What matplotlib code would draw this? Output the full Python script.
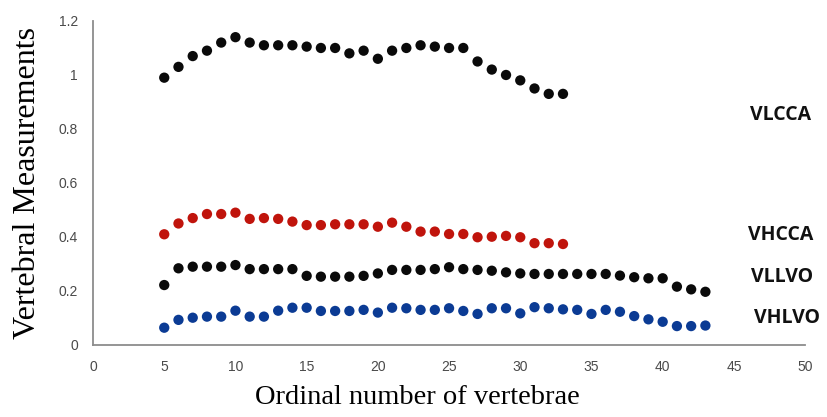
import matplotlib
matplotlib.use("Agg")
import matplotlib.pyplot as plt

# ordinal numbers of the vertebrae for each series
x_cca = list(range(5, 34))
x_lvo = list(range(5, 44))

vlcca = [0.99, 1.03, 1.07, 1.09, 1.12, 1.14, 1.12, 1.11, 1.11, 1.11,
         1.105, 1.10, 1.10, 1.08, 1.09, 1.06, 1.09, 1.10, 1.11, 1.105,
         1.10, 1.10, 1.05, 1.02, 1.00, 0.98, 0.95, 0.93, 0.93]
vhcca = [0.41, 0.45, 0.47, 0.485, 0.485, 0.49, 0.467, 0.47, 0.467, 0.457,
         0.444, 0.444, 0.447, 0.447, 0.447, 0.438, 0.453, 0.438, 0.42, 0.42,
         0.411, 0.411, 0.399, 0.401, 0.404, 0.399, 0.377, 0.377, 0.374]
vllvo = [0.222, 0.284, 0.29, 0.29, 0.29, 0.296, 0.281, 0.281, 0.281, 0.281,
         0.256, 0.253, 0.253, 0.253, 0.256, 0.265, 0.278, 0.278, 0.278, 0.281,
         0.288, 0.281, 0.278, 0.275, 0.269, 0.265, 0.263, 0.263, 0.263, 0.263,
         0.263, 0.263, 0.257, 0.251, 0.247, 0.247, 0.216, 0.206, 0.197]
vhlvo = [0.064, 0.093, 0.101, 0.105, 0.105, 0.127, 0.105, 0.105, 0.127, 0.138,
         0.138, 0.126, 0.126, 0.126, 0.130, 0.120, 0.138, 0.136, 0.130, 0.130,
         0.136, 0.126, 0.115, 0.136, 0.136, 0.117, 0.140, 0.136, 0.132, 0.130,
         0.115, 0.130, 0.123, 0.107, 0.095, 0.086, 0.070, 0.070, 0.072]

series = [
    ("VLCCA", x_cca, vlcca, "#0a0a0a"),
    ("VHCCA", x_cca, vhcca, "#c0140c"),
    ("VLLVO", x_lvo, vllvo, "#0a0a0a"),
    ("VHLVO", x_lvo, vhlvo, "#0b3b94"),
]
# where the series names sit (data coordinates)
label_x = [46.1, 46.0, 46.2, 46.4]
label_y = [0.85, 0.407, 0.252, 0.100]

x_ticks = list(range(0, 51, 5))
y_ticks = [0, 0.2, 0.4, 0.6, 0.8, 1, 1.2]
y_tick_labels = ["0", "0.2", "0.4", "0.6", "0.8", "1", "1.2"]

fig = plt.figure(figsize=(8.27, 4.17), dpi=100)
ax = fig.add_axes([0.1125, 0.1727, 0.861, 0.777])

for (name, xs, ys, color), lx, ly in zip(series, label_x, label_y):
    ax.scatter(xs, ys, s=55, color=color, edgecolors="none", zorder=3)
    ax.text(lx, ly, name, fontsize=14, fontweight="bold",
            family="Open Sans", va="center", ha="left", color="#111111")

ax.set_xlim(0, 50)
ax.set_ylim(0, 1.2)
ax.set_xticks(x_ticks)
ax.set_yticks(y_ticks)
ax.set_yticklabels(y_tick_labels)
ax.tick_params(length=0, labelsize=10, labelcolor="#4a4a4a", pad=11)
for lab in ax.get_xticklabels() + ax.get_yticklabels():
    lab.set_family("Liberation Sans")

for side in ["top", "right"]:
    ax.spines[side].set_visible(False)
for side in ["left", "bottom"]:
    ax.spines[side].set_color("#8c8c8c")
    ax.spines[side].set_linewidth(1.3)

ax.set_xlabel("Ordinal number of vertebrae", family="Liberation Serif",
              fontsize=20.5, labelpad=9)
ax.xaxis.set_label_coords(0.456, -0.125)
ax.set_ylabel("Vertebral Measurements", family="Liberation Serif",
              fontsize=23, labelpad=12)

fig.savefig("out.png", dpi=100)
